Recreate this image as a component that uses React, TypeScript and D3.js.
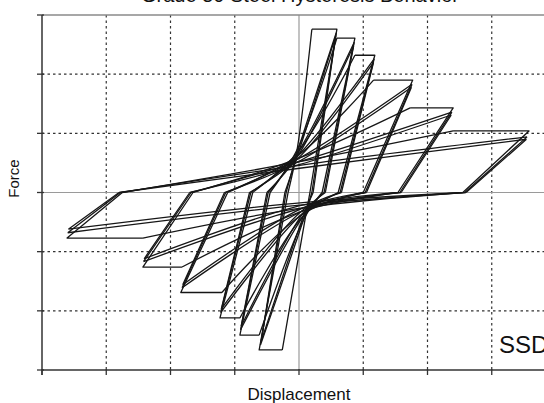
import * as d3 from "d3";

type Pt = [number, number];

const W = 544;
const H = 403;

const xTicks = [-4, -3, -2, -1, 0, 1, 2, 3, 4];
const yTicks = [-3, -2, -1, 0, 1, 2, 3];

// first excursion to each amplitude (with the flat step at the peak)
const posPeakX = [0.59, 0.87, 1.18, 1.77, 2.4, 3.58];
const posPeakF = [2.76, 2.61, 2.32, 1.9, 1.43, 1.04];
const posCornerX = [0.2, 0.59, 0.87, 1.16, 1.73, 2.4];
const posZeroX = [0.17, 0.36, 0.61, 1.0, 1.54, 2.55];
const negPeakX = [-0.62, -0.92, -1.23, -1.84, -2.43, -3.61];
const negPeakF = [-2.66, -2.41, -2.12, -1.69, -1.26, -0.77];
const negCornerX = [-0.26, -0.62, -0.92, -1.2, -1.82, -2.43];
const negZeroX = [-0.17, -0.45, -0.72, -1.11, -1.65, -2.75];
const upperPinchF1 = [0.72, 0.72, 0.68, 0.63, 0.58, 0.52];
const lowerPinchF1 = [-0.42, -0.42, -0.38, -0.35, -0.31, -0.26];

// second cycle at the same amplitude
const posPeak2X = [0.58, 0.86, 1.17, 1.76, 2.38, 3.55];
const posPeak2F = [2.7, 2.54, 2.26, 1.83, 1.36, 0.94];
const posZero2X = [0.2, 0.39, 0.64, 1.03, 1.57, 2.58];
const negPeak2X = [-0.6, -0.91, -1.22, -1.82, -2.42, -3.6];
const negPeak2F = [-2.58, -2.32, -2.03, -1.61, -1.17, -0.68];
const negZero2X = [-0.2, -0.48, -0.75, -1.14, -1.68, -2.78];
const upperPinchF2 = [0.66, 0.65, 0.62, 0.57, 0.52, 0.46];
const lowerPinchF2 = [-0.36, -0.36, -0.33, -0.3, -0.26, -0.21];

// third cycle at the same amplitude
const posPeak3X = [0.57, 0.85, 1.16, 1.75, 2.37, 3.54];
const posPeak3F = [2.64, 2.48, 2.2, 1.78, 1.31, 0.9];
const posZero3X = [0.22, 0.41, 0.66, 1.05, 1.59, 2.6];
const negPeak3X = [-0.59, -0.9, -1.21, -1.81, -2.41, -3.59];
const negPeak3F = [-2.52, -2.26, -1.97, -1.56, -1.12, -0.62];
const negZero3X = [-0.22, -0.5, -0.77, -1.16, -1.7, -2.8];
const upperPinchF3 = [0.6, 0.6, 0.57, 0.52, 0.47, 0.41];
const lowerPinchF3 = [-0.31, -0.31, -0.28, -0.25, -0.21, -0.17];

const upperPinchX = [-0.03, -0.03, -0.02, -0.01, 0.0, 0.01];
const lowerPinchX = [0.1, 0.09, 0.08, 0.08, 0.07, 0.06];

export default function App() {
  const x = d3.scaleLinear().domain([-4, 4]).range([42, 556]);
  const y = d3.scaleLinear().domain([-3, 3]).range([370, 15]);

  const straight = d3
    .line<Pt>()
    .x((d) => x(d[0]))
    .y((d) => y(d[1]));
  const smooth = d3
    .line<Pt>()
    .x((d) => x(d[0]))
    .y((d) => y(d[1]))
    .curve(d3.curveCatmullRom.alpha(0.5));

  const loops: string[] = [];
  posPeakX.forEach((_, i) => {
    // first excursion: flat step from the old peak to the new one
    loops.push(
      (smooth([
        [negZeroX[i], 0],
        [upperPinchX[i], upperPinchF1[i]],
        [posCornerX[i], posPeakF[i]],
      ]) ?? "") +
        (straight([
          [posCornerX[i], posPeakF[i]],
          [posPeakX[i], posPeakF[i]],
          [posZeroX[i], 0],
        ]) ?? "") +
        (smooth([
          [posZeroX[i], 0],
          [lowerPinchX[i], lowerPinchF1[i]],
          [negCornerX[i], negPeakF[i]],
        ]) ?? "") +
        (straight([
          [negCornerX[i], negPeakF[i]],
          [negPeakX[i], negPeakF[i]],
          [negZeroX[i], 0],
        ]) ?? "")
    );
    // repeat cycles
    const reps = [
      [posPeak2X, posPeak2F, posZero2X, negPeak2X, negPeak2F, negZero2X, upperPinchF2, lowerPinchF2],
      [posPeak3X, posPeak3F, posZero3X, negPeak3X, negPeak3F, negZero3X, upperPinchF3, lowerPinchF3],
    ];
    reps.forEach(([px, pf, pz, nx, nf, nz, up, lo]) => {
      loops.push(
        (smooth([
          [nz[i], 0],
          [upperPinchX[i], up[i]],
          [px[i], pf[i]],
        ]) ?? "") +
          (straight([
            [px[i], pf[i]],
            [pz[i], 0],
          ]) ?? "") +
          (smooth([
            [pz[i], 0],
            [lowerPinchX[i], lo[i]],
            [nx[i], nf[i]],
          ]) ?? "") +
          (straight([
            [nx[i], nf[i]],
            [nz[i], 0],
          ]) ?? "")
      );
    });
  });

  const font = "Arial, 'Liberation Sans', sans-serif";
  const [x0, x1] = x.range();
  const [yb, yt] = y.range();

  return (
    <svg
      width={W}
      height={H}
      style={{ position: "absolute", left: 0, top: 0, background: "#fff" }}
    >
      <text x={300} y={1.5} textAnchor="middle" fontFamily={font} fontSize={20} fill="#111">
        Grade 50 Steel Hysteresis Behavior
      </text>

      {/* grid */}
      {xTicks
        .filter((t) => t !== 0 && t !== -4)
        .map((t) => (
          <line
            key={"gx" + t}
            x1={x(t)}
            x2={x(t)}
            y1={yt}
            y2={yb}
            stroke="#333"
            strokeWidth={1.2}
            strokeDasharray="2.5,3"
          />
        ))}
      {yTicks
        .filter((t) => t !== 0 && Math.abs(t) !== 3)
        .map((t) => (
          <line
            key={"gy" + t}
            x1={x0}
            x2={x1}
            y1={y(t)}
            y2={y(t)}
            stroke="#333"
            strokeWidth={1.2}
            strokeDasharray="2.5,3"
          />
        ))}
      <line x1={x(0)} x2={x(0)} y1={yt} y2={yb} stroke="#9a9a9a" strokeWidth={1.2} />
      <line x1={x0} x2={x1} y1={y(0)} y2={y(0)} stroke="#9a9a9a" strokeWidth={1.2} />
      <line x1={x0} x2={x1} y1={yt} y2={yt} stroke="#8a8a8a" strokeWidth={1.5} />
      <line x1={x1} x2={x1} y1={yt} y2={yb} stroke="#8a8a8a" strokeWidth={1.5} />

      {/* loops */}
      <g fill="none" stroke="#161616" strokeWidth={1.3} strokeLinejoin="round">
        {loops.map((d, i) => (
          <path key={i} d={d} />
        ))}
      </g>

      {/* axes */}
      <line x1={x0} x2={x1} y1={yb} y2={yb} stroke="#333" strokeWidth={1.5} />
      <line x1={x0} x2={x0} y1={yt} y2={yb + 5} stroke="#333" strokeWidth={1.5} />
      {xTicks.map((t) => (
        <line key={"tx" + t} x1={x(t)} x2={x(t)} y1={yb - 1} y2={yb + 5} stroke="#333" strokeWidth={1.3} />
      ))}
      {yTicks.map((t) => (
        <line key={"ty" + t} x1={x0 - 5} x2={x0 + 2} y1={y(t)} y2={y(t)} stroke="#333" strokeWidth={1.3} />
      ))}

      <text
        transform={`translate(19,${y(0) - 14}) rotate(-90)`}
        textAnchor="middle"
        fontFamily={font}
        fontSize={15}
        fill="#111"
      >
        Force
      </text>
      <text x={x(0)} y={400} textAnchor="middle" fontFamily={font} fontSize={17} fill="#111">
        Displacement
      </text>
      <text x={499} y={353} fontFamily={font} fontSize={24} fill="#111">
        SSD
      </text>
    </svg>
  );
}
